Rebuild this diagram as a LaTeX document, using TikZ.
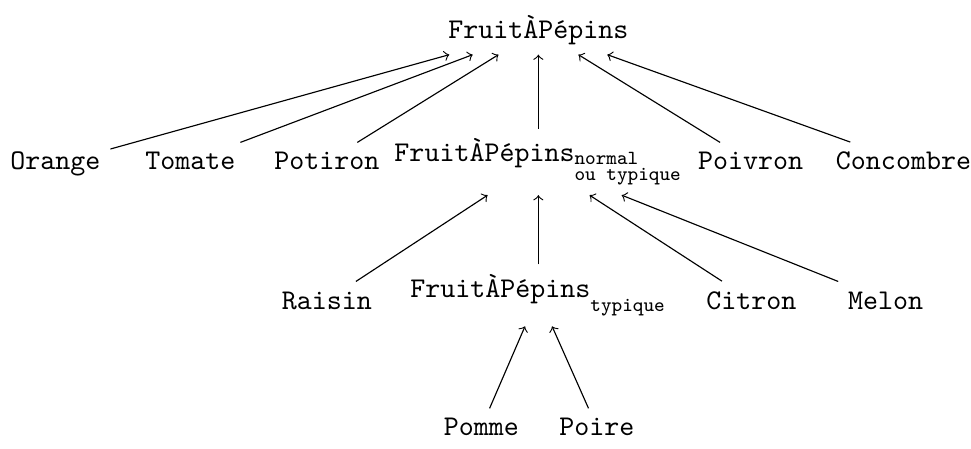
\documentclass[tikz,border=0pt]{standalone}
\usepackage{amsmath}
\begin{document}
\begin{tikzpicture}[fruit/.style={font=\ttfamily,anchor=base}]
\useasboundingbox (0,0) rectangle (11.94,5.51);

% Root
\node[fruit] (root) at (6.62,5.04) {FruitÀPépins};

% Level 2
\node[fruit] (orange) at (0.68,3.42) {Orange};
\node[fruit] (tomate) at (2.34,3.42) {Tomate};
\node[fruit] (potiron) at (4.02,3.42) {Potiron};
\node[fruit] (normal) at (6.62,3.52) {FruitÀPépins$_{\begin{subarray}{l}\texttt{normal}\\\texttt{ou typique}\end{subarray}}$};
\node[fruit] (poivron) at (9.23,3.42) {Poivron};
\node[fruit] (concombre) at (11.11,3.42) {Concombre};

% Level 3
\node[fruit] (raisin) at (4.02,1.71) {Raisin};
\node[fruit] (typique) at (6.62,1.85) {FruitÀPépins$_{\text{\raisebox{-3.4pt}{\texttt{typique}}}}$};
\node[fruit] (citron) at (9.24,1.71) {Citron};
\node[fruit] (melon) at (10.89,1.71) {Melon};

% Level 4
\node[fruit] (pomme) at (5.92,0.15) {Pomme};
\node[fruit] (poire) at (7.34,0.15) {Poire};

% Edges
\foreach \n in {orange,tomate,potiron,normal,poivron,concombre}
  \draw[->] (\n) -- (root);
\foreach \n in {raisin,typique,citron,melon}
  \draw[->] (\n) -- (normal);
\foreach \n in {pomme,poire}
  \draw[->] (\n) -- (typique);
\end{tikzpicture}
\end{document}
